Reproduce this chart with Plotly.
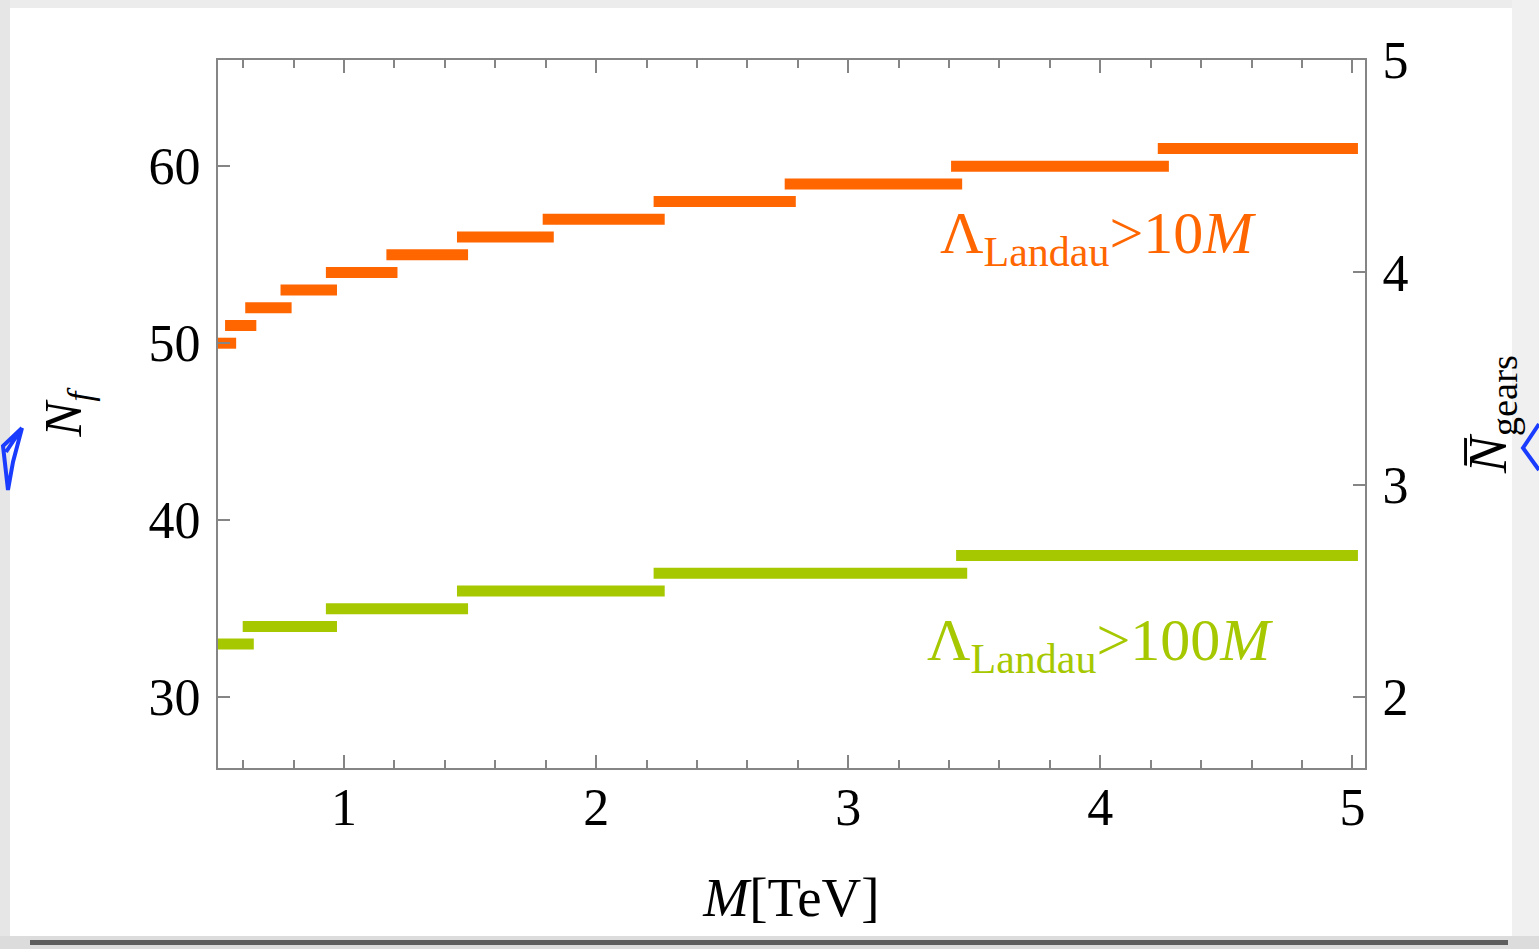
import plotly.graph_objects as go

# Step data: number of flavours N_f versus mass scale M [TeV]
orange_edges = [0.50, 0.55, 0.63, 0.77, 0.95, 1.19, 1.47, 1.81, 2.25, 2.77, 3.43, 4.25, 5.00]
orange_nf = [50, 51, 52, 53, 54, 55, 56, 57, 58, 59, 60, 61]

green_edges = [0.50, 0.62, 0.95, 1.47, 2.25, 3.45, 5.00]
green_nf = [33, 34, 35, 36, 37, 38]

x_ticks = [1, 2, 3, 4, 5]
y_ticks = [30, 40, 50, 60]
gear_ticks = [2, 3, 4, 5]

X_RANGE = [0.5, 5.05]
Y_RANGE = [26, 66]

ORANGE = "#ff6600"
GREEN = "#a6c800"
AXIS = "#858585"
FONT = "Liberation Serif"

W, H = 1539, 949
L, R, T, B = 218, 174, 60, 181
CAP = 0.022  # square end-cap overhang of each step, in M units


def steps(edges, values):
    xs, ys = [], []
    for i, v in enumerate(values):
        xs += [edges[i] - CAP, edges[i + 1] + CAP, None]
        ys += [v, v, None]
    return xs, ys


fig = go.Figure()
for edges, vals, col in [(orange_edges, orange_nf, ORANGE), (green_edges, green_nf, GREEN)]:
    xs, ys = steps(edges, vals)
    fig.add_trace(go.Scatter(x=xs, y=ys, mode="lines",
                             line=dict(color=col, width=11),
                             showlegend=False, hoverinfo="skip"))

# N_gears axis: N_f = 12 * N_gears + 6
fig.add_trace(go.Scatter(x=[None], y=[None], yaxis="y2", showlegend=False))

tickfont = dict(family=FONT, size=52, color="black")

fig.update_layout(
    width=W, height=H,
    margin=dict(l=L, r=R, t=T, b=B),
    paper_bgcolor="white", plot_bgcolor="white",
    xaxis=dict(range=X_RANGE, tickvals=x_ticks, ticks="inside", ticklen=13, tickwidth=2,
               tickcolor=AXIS, showline=True, linecolor=AXIS, linewidth=2, mirror="ticks",
               showgrid=False, zeroline=False, tickfont=tickfont, ticklabelstandoff=-7,
               minor=dict(ticks="inside", ticklen=8, tickwidth=2, tickcolor=AXIS,
                          dtick=0.2, tick0=0, showgrid=False),
               title=dict(text="<i>M</i>[TeV]", font=dict(family=FONT, size=55, color="black"),
                          standoff=42)),
    yaxis=dict(range=Y_RANGE, tickvals=y_ticks, ticks="inside", ticklen=12, tickwidth=2,
               tickcolor=AXIS, showline=True, linecolor=AXIS, linewidth=2,
               showgrid=False, zeroline=False, tickfont=tickfont, ticklabelstandoff=5,
               title=dict(text="<i>N<sub>f</sub></i>", font=dict(family=FONT, size=52, color="black"),
                          standoff=50)),
    yaxis2=dict(range=[(Y_RANGE[0] - 6) / 12, (Y_RANGE[1] - 6) / 12], overlaying="y", side="right",
                tickvals=gear_ticks, ticks="inside", ticklen=12, tickwidth=2, tickcolor=AXIS,
                showline=True, linecolor=AXIS, linewidth=2, showgrid=False, zeroline=False,
                tickfont=tickfont, ticklabelstandoff=5,
                title=dict(text="<i>N\u0305</i><sub>gears</sub>",
                           font=dict(family=FONT, size=55, color="black"), standoff=60)),
    annotations=[
        dict(x=3.99, y=56.0, xref="x", yref="y", showarrow=False,
             text="\u039b<sub>Landau</sub>&gt;10<i>M</i>",
             font=dict(family=FONT, size=60, color=ORANGE)),
        dict(x=4.0, y=33.0, xref="x", yref="y", showarrow=False,
             text="\u039b<sub>Landau</sub>&gt;100<i>M</i>",
             font=dict(family=FONT, size=60, color=GREEN)),
    ],
)


# Light grey page edge around the figure
def px(x):
    return (x - L) / (W - L - R)


def py(y):
    return (H - B - y) / (H - T - B)


frame = [
    (0, 0, W, 8, "#ececec"),
    (0, 0, 10, H, "#e6e6e6"),
    (1512, 0, W, H, "#f0f0f0"),
    (0, 936, W, H, "#dcdcdc"),
    (30, 940, 1508, 945, "#5e5e5e"),
]
shapes = []
for x0, y0, x1, y1, c in frame:
    shapes.append(dict(type="rect", xref="paper", yref="paper",
                       x0=px(x0), x1=px(x1), y0=py(y1), y1=py(y0),
                       fillcolor=c, line=dict(width=0), layer="below"))


# Blue pen marks at the page edges
def pen(points):
    d = "M " + " L ".join(f"{px(x):.5f} {py(y):.5f}" for x, y in points)
    return dict(type="path", xref="paper", yref="paper", path=d,
                line=dict(color="#1a3cff", width=4), layer="above")


shapes.append(pen([(22, 428), (3, 446), (8, 490), (13, 462), (22, 428), (6, 452)]))
shapes.append(pen([(1539, 424), (1523, 448), (1539, 470)]))
fig.update_layout(shapes=shapes)

fig.write_html("out.html")
